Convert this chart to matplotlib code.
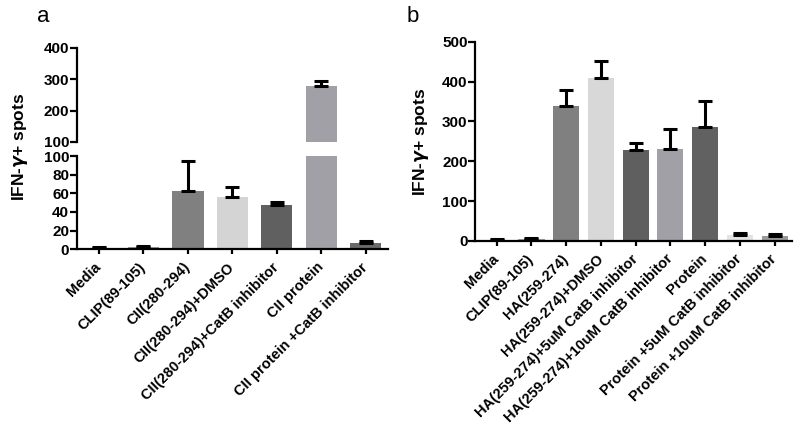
import numpy as np
import matplotlib
matplotlib.use('Agg')
import matplotlib.pyplot as plt

plt.rcParams['font.family'] = ['Liberation Sans', 'DejaVu Sans']
plt.rcParams['font.weight'] = 'bold'
plt.rcParams['mathtext.fontset'] = 'dejavusans'

# panel a data
labels_a = ['Media', 'CLIP(89-105)', 'CII(280-294)', 'CII(280-294)+DMSO',
            'CII(280-294)+CatB inhibitor', 'CII protein', 'CII protein +CatB inhibitor']
vals_a = [1, 2, 63, 56, 47, 278, 7]
err_a = [1, 1, 32, 11, 4, 17, 2]
cols_a = ['#4a4a4a', '#9a9a9a', '#808080', '#d4d4d4', '#606060', '#a0a0a6', '#6a6a6a']

# panel b data
labels_b = ['Media', 'CLIP(89-105)', 'HA(259-274)', 'HA(259-274)+DMSO',
            'HA(259-274)+5uM CatB inhibitor', 'HA(259-274)+10uM CatB inhibitor',
            'Protein', 'Protein +5uM CatB inhibitor', 'Protein +10uM CatB inhibitor']
vals_b = [3, 4, 338, 408, 228, 230, 285, 14, 12]
err_b = [2, 2, 40, 45, 17, 50, 67, 6, 6]
cols_b = ['#4a4a4a', '#a0a0a0', '#808080', '#d8d8d8', '#5f5f5f', '#a0a0a6',
          '#616161', '#e4e4e4', '#9a9a9a']

LW = 1.6
ekw = dict(elinewidth=2.2, capthick=2.2, ecolor='black')
TICK_FS = 11
XLAB_FS = 10.5


def style(ax):
    for s in ['top', 'right']:
        ax.spines[s].set_visible(False)
    for s in ['left', 'bottom']:
        ax.spines[s].set_linewidth(LW)
    ax.tick_params(axis='y', width=LW, length=5, labelsize=TICK_FS, pad=0.5)
    ax.tick_params(axis='x', width=LW, length=3.5, pad=8)


def xlabels(ax, x, labels):
    ax.set_xticks(x)
    ax.set_xticklabels(labels, rotation=45, ha='right', va='center',
                       rotation_mode='anchor', fontsize=XLAB_FS)


fig = plt.figure(figsize=(8, 4.34), dpi=100)

# panel a, broken axis
x_a = np.arange(len(vals_a))
v_a = np.array(vals_a)
e_a = np.array(err_a)
ax_lo = fig.add_axes([0.096, 0.426, 0.389, 0.214])
ax_hi = fig.add_axes([0.096, 0.673, 0.389, 0.217])

lo = v_a < 100
ax_lo.bar(x_a, v_a, width=0.7, color=cols_a)
ax_lo.errorbar(x_a[lo], v_a[lo], yerr=[np.zeros(lo.sum()), e_a[lo]],
               fmt='none', capsize=5, **ekw)
ax_hi.bar(x_a, v_a, width=0.7, color=cols_a)
ax_hi.errorbar(x_a[~lo], v_a[~lo], yerr=[np.zeros((~lo).sum()), e_a[~lo]],
               fmt='none', capsize=5, **ekw)
for ax in (ax_lo, ax_hi):
    ax.set_xlim(-0.5, 6.5)
    style(ax)
ax_lo.set_ylim(0, 100)
ax_lo.set_yticks(np.arange(0, 101, 20))
xlabels(ax_lo, x_a, labels_a)
ax_hi.set_ylim(100, 400)
ax_hi.set_yticks([100, 200, 300, 400])
ax_hi.spines['bottom'].set_visible(False)
ax_hi.set_xticks([])

fig.text(0.025, 1 - 147 / 434, r'IFN-$\gamma$+ spots', rotation=90,
         ha='center', va='center', fontsize=12.5, fontweight='bold')
fig.text(0.054, 1 - 16 / 434, 'a', fontsize=16, fontweight='normal', ha='center', va='center')

# panel b
x_b = np.arange(len(vals_b))
ax_b = fig.add_axes([0.594, 0.445, 0.396, 0.4585])
ax_b.bar(x_b, vals_b, width=0.75, color=cols_b,
         yerr=[np.zeros(len(err_b)), err_b], capsize=5, error_kw=ekw)
ax_b.set_xlim(-0.62, 8.5)
ax_b.set_ylim(0, 500)
ax_b.set_yticks(np.arange(0, 501, 100))
style(ax_b)
xlabels(ax_b, x_b, labels_b)

fig.text(0.526, 1 - 142 / 434, r'IFN-$\gamma$+ spots', rotation=90,
         ha='center', va='center', fontsize=12.5, fontweight='bold')
fig.text(0.516, 1 - 16 / 434, 'b', fontsize=16, fontweight='normal', ha='center', va='center')

fig.savefig('out.png', dpi=100)
